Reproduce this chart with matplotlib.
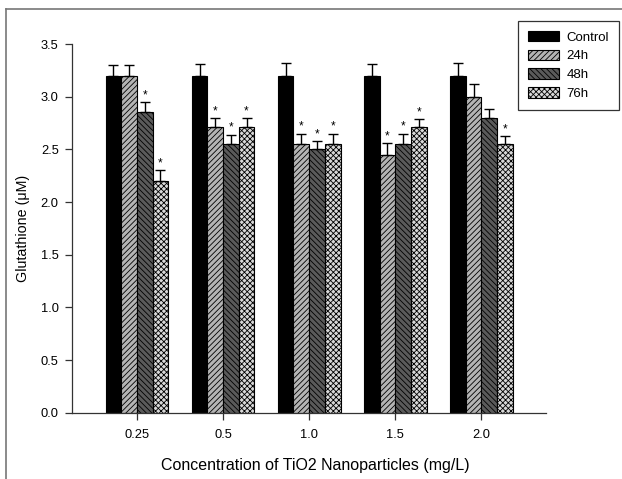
import numpy as np
import matplotlib
matplotlib.use("Agg")
import matplotlib.pyplot as plt
from matplotlib.lines import Line2D

plt.rcParams['font.family'] = ['Liberation Sans', 'DejaVu Sans']
plt.rcParams['hatch.linewidth'] = 0.6

# --- data ---
concentrations = ["0.25", "0.5", "1.0", "1.5", "2.0"]
series_names = ["Control", "24h", "48h", "76h"]

control = [3.20, 3.20, 3.20, 3.20, 3.20]
h24 = [3.20, 2.71, 2.55, 2.45, 3.00]
h48 = [2.85, 2.55, 2.50, 2.55, 2.80]
h76 = [2.20, 2.71, 2.55, 2.71, 2.55]

control_err = [0.10, 0.11, 0.12, 0.11, 0.12]
h24_err = [0.10, 0.09, 0.10, 0.11, 0.12]
h48_err = [0.10, 0.09, 0.08, 0.10, 0.08]
h76_err = [0.10, 0.09, 0.10, 0.08, 0.08]

# significance markers (*)
control_sig = [False, False, False, False, False]
h24_sig = [False, True, True, True, False]
h48_sig = [True, True, True, True, False]
h76_sig = [True, True, True, True, True]

values = [control, h24, h48, h76]
errors = [control_err, h24_err, h48_err, h76_err]
sigs = [control_sig, h24_sig, h48_sig, h76_sig]

# --- styles ---
styles = [
    dict(color="black", hatch=None),
    dict(color="#b4b4b4", hatch="//////"),
    dict(color="#5a5a5a", hatch="\\\\\\\\\\\\"),
    dict(color="#d8d8d8", hatch="xxxxxx"),
]

fig = plt.figure(figsize=(6.22, 4.79), dpi=100)
ax = fig.add_axes([72.3 / 622, 1 - 412.7 / 479, (546 - 72.3) / 622, (412.7 - 44) / 479])

x = np.arange(len(concentrations))
w = 0.182
offsets = [-1.5 * w, -0.5 * w, 0.5 * w, 1.5 * w]

handles = []
for i, name in enumerate(series_names):
    st = styles[i]
    bars = ax.bar(x + offsets[i], values[i], width=w, color=st["color"],
                  edgecolor="black", linewidth=0.8, hatch=st["hatch"],
                  label=name, zorder=2)
    handles.append(bars)
    ax.errorbar(x + offsets[i], values[i],
                yerr=[np.zeros(len(x)), errors[i]],
                fmt="none", ecolor="black", elinewidth=1.0,
                capsize=3.3, capthick=1.0, zorder=3)
    for j in range(len(x)):
        if sigs[i][j]:
            ax.annotate("*", (x[j] + offsets[i], values[i][j] + errors[i][j]),
                        xytext=(0, 0.5), textcoords="offset points",
                        ha="center", va="bottom", fontsize=8.5)

ax.set_xlim(-0.75, 4.75)
ax.set_ylim(0, 3.5)
ax.set_yticks(np.arange(0, 3.51, 0.5))
ax.set_yticklabels([f"{v:.1f}" for v in np.arange(0, 3.51, 0.5)])
ax.set_xticks(x)
ax.set_xticklabels(concentrations)

for s in ["top", "right"]:
    ax.spines[s].set_visible(False)
for s in ["left", "bottom"]:
    ax.spines[s].set_linewidth(0.9)
    ax.spines[s].set_color("#333333")

ax.tick_params(axis="both", direction="out", length=5, width=0.9,
               color="#333333", labelsize=9.3)
ax.tick_params(axis="x", pad=6.5)
ax.tick_params(axis="y", pad=4.8)

ax.set_ylabel("Glutathione (\u03bcM)", fontsize=10.3, labelpad=8)
ax.set_xlabel("Concentration of TiO2 Nanoparticles (mg/L)", fontsize=11.5, labelpad=14)
ax.xaxis.set_label_coords(0.514, -0.122)

leg = ax.legend(handles=handles, labels=series_names, loc="upper left",
                bbox_to_anchor=(517.7 / 622, 1 - 21 / 479),
                bbox_transform=fig.transFigure, fontsize=9.5,
                frameon=True, fancybox=False, handlelength=2.4,
                handleheight=0.85, borderpad=0.75, labelspacing=0.45,
                handletextpad=0.55, borderaxespad=0)
leg.get_frame().set_edgecolor("black")
leg.get_frame().set_linewidth(0.9)

# outer frame (top and left edges of the original figure box)
fig.add_artist(Line2D([5.5 / 622, 1.0], [1 - 9 / 479, 1 - 9 / 479],
                      transform=fig.transFigure, color="#777777", linewidth=1.2))
fig.add_artist(Line2D([5.5 / 622, 5.5 / 622], [0, 1 - 9 / 479],
                      transform=fig.transFigure, color="#777777", linewidth=1.2))

fig.savefig("out.png", dpi=100)
